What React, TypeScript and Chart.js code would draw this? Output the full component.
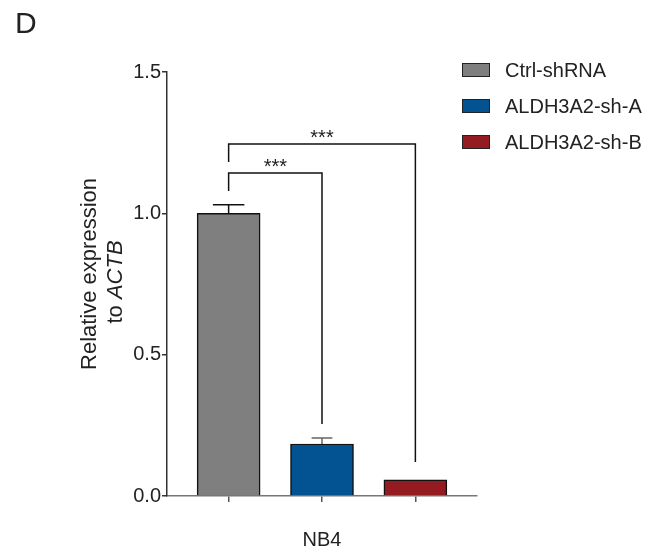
import React, { useEffect, useRef } from 'react';
import { Chart, registerables } from 'chart.js';

Chart.register(...registerables);

// ---------- data ----------
const groups = ['Ctrl-shRNA', 'ALDH3A2-sh-A', 'ALDH3A2-sh-B'];
const positions = [0, 1, 2];
const means = [1.0, 0.184, 0.057];
const errors = [0.03, 0.021, 0.0];
const yTicks = [0, 0.5, 1.0, 1.5];
const xCategory = 'NB4';
const panelLetter = 'D';
const yTitleLine1 = 'Relative expression';
const yTitleLine2Plain = 'to ';
const yTitleLine2Italic = 'ACTB';

// significance brackets (data units)
const bracketFrom = [0, 0];
const bracketTo = [1, 2];
const bracketLevel = [1.143, 1.245];
const bracketLeftEnd = [1.079, 1.182];
const bracketRightEnd = [0.255, 0.12];
const bracketLabel = ['***', '***'];

// ---------- styles ----------
const FONT = '"Liberation Sans", Arial, Helvetica, sans-serif';
const colors = ['#7f7f7f', '#035291', '#941b1f'];
const errorColors = ['#111111', '#666666', '#111111'];
const capFraction = [0.5, 0.33, 0.5];
const BAR_W = 63;

const annotate = {
  id: 'annotate',
  afterDatasetsDraw(chart: any) {
    const ctx = chart.ctx as CanvasRenderingContext2D;
    const xs = chart.scales.x;
    const ys = chart.scales.y;
    ctx.save();
    // error bars
    means.forEach((m, i) => {
      const e = errors[i];
      if (!e) return;
      const cx = xs.getPixelForValue(positions[i]);
      const y0 = ys.getPixelForValue(m);
      const y1 = ys.getPixelForValue(m + e);
      const half = (BAR_W * capFraction[i]) / 2;
      ctx.strokeStyle = errorColors[i];
      ctx.lineWidth = 1.5;
      ctx.beginPath();
      ctx.moveTo(cx, y0);
      ctx.lineTo(cx, y1);
      ctx.moveTo(cx - half, y1);
      ctx.lineTo(cx + half, y1);
      ctx.stroke();
    });
    // brackets
    bracketFrom.forEach((f, i) => {
      const x1 = xs.getPixelForValue(positions[f]);
      const x2 = xs.getPixelForValue(positions[bracketTo[i]]);
      const yl = ys.getPixelForValue(bracketLevel[i]);
      const ya = ys.getPixelForValue(bracketLeftEnd[i]);
      const yb = ys.getPixelForValue(bracketRightEnd[i]);
      ctx.strokeStyle = '#111';
      ctx.lineWidth = 1.5;
      ctx.beginPath();
      ctx.moveTo(x1, ya);
      ctx.lineTo(x1, yl);
      ctx.lineTo(x2, yl);
      ctx.lineTo(x2, yb);
      ctx.stroke();
      ctx.fillStyle = '#222';
      ctx.font = `20px ${FONT}`;
      ctx.textAlign = 'center';
      ctx.textBaseline = 'alphabetic';
      ctx.fillText(bracketLabel[i], (x1 + x2) / 2, yl);
    });
    ctx.restore();
  },
  afterDraw(chart: any) {
    const ctx = chart.ctx as CanvasRenderingContext2D;
    const xs = chart.scales.x;
    const area = chart.chartArea;
    ctx.save();
    ctx.fillStyle = '#222';
    // panel letter
    ctx.font = `30px ${FONT}`;
    ctx.textAlign = 'left';
    ctx.textBaseline = 'alphabetic';
    ctx.fillText(panelLetter, 15, 33);
    // x category label
    ctx.font = `20px ${FONT}`;
    ctx.textAlign = 'center';
    ctx.textBaseline = 'middle';
    ctx.fillText(xCategory, xs.getPixelForValue(positions[1]), area.bottom + 44);
    // y title
    ctx.save();
    ctx.translate(90, 274);
    ctx.rotate(-Math.PI / 2);
    ctx.font = `22px ${FONT}`;
    ctx.textAlign = 'center';
    ctx.textBaseline = 'middle';
    ctx.fillText(yTitleLine1, 0, 0);
    ctx.restore();
    ctx.save();
    ctx.translate(116, 282);
    ctx.rotate(-Math.PI / 2);
    ctx.font = `22px ${FONT}`;
    const w1 = ctx.measureText(yTitleLine2Plain).width;
    ctx.font = `italic 22px ${FONT}`;
    const w2 = ctx.measureText(yTitleLine2Italic).width;
    const start = -(w1 + w2) / 2;
    ctx.textAlign = 'left';
    ctx.textBaseline = 'middle';
    ctx.font = `22px ${FONT}`;
    ctx.fillText(yTitleLine2Plain, start, 0);
    ctx.font = `italic 22px ${FONT}`;
    ctx.fillText(yTitleLine2Italic, start + w1, 0);
    ctx.restore();
    // legend
    ctx.font = `20px ${FONT}`;
    ctx.textAlign = 'left';
    ctx.textBaseline = 'middle';
    groups.forEach((g, i) => {
      const yc = 70 + i * 36;
      ctx.fillStyle = colors[i];
      ctx.fillRect(462, yc - 7, 28, 14);
      ctx.strokeStyle = '#222';
      ctx.lineWidth = 1;
      ctx.strokeRect(462.5, yc - 6.5, 27, 13);
      ctx.fillStyle = '#222';
      ctx.fillText(g, 505, yc + 1);
    });
    ctx.restore();
  },
};

export default function App() {
  const ref = useRef<HTMLCanvasElement>(null);
  useEffect(() => {
    if (!ref.current) return;
    const chart = new Chart(ref.current, {
      type: 'bar',
      data: {
        datasets: [
          {
            label: 'Relative expression',
            data: positions.map((p, i) => ({ x: p, y: means[i] })) as any,
            backgroundColor: colors,
            borderColor: '#111',
            borderWidth: 1.5,
            barThickness: BAR_W,
            grouped: false,
          } as any,
        ],
      },
      options: {
        animation: false,
        responsive: false,
        maintainAspectRatio: false,
        layout: { padding: { top: 72, right: 182, bottom: 0, left: 0 } },
        plugins: { legend: { display: false }, tooltip: { enabled: false } },
        scales: {
          x: {
            type: 'linear',
            offset: false,
            min: -0.66,
            max: 2.66,
            afterBuildTicks: (s: any) => {
              s.ticks = positions.map((v) => ({ value: v }));
            },
            afterFit: (s: any) => {
              s.height = 61;
            },
            ticks: { callback: () => '', font: { size: 20, family: FONT } },
            grid: {
              display: true,
              offset: false,
              drawOnChartArea: false,
              drawTicks: true,
              tickLength: 6,
              color: '#555',
              lineWidth: 1.5,
            },
            border: { display: true, color: '#777', width: 1.5 },
          } as any,
          y: {
            type: 'linear',
            min: 0,
            max: 1.5,
            afterBuildTicks: (s: any) => {
              s.ticks = yTicks.map((v) => ({ value: v }));
            },
            afterFit: (s: any) => {
              s.width = 167;
            },
            ticks: {
              padding: 1,
              color: '#222',
              font: { size: 20, family: FONT },
              callback: (v: any) => Number(v).toFixed(1),
            },
            grid: {
              display: true,
              drawOnChartArea: false,
              drawTicks: true,
              tickLength: 5,
              color: '#333',
              lineWidth: 1.5,
            },
            border: { display: true, color: '#333', width: 1.5 },
          } as any,
        },
      },
      plugins: [annotate],
    });
    return () => chart.destroy();
  }, []);
  return (
    <div style={{ position: 'fixed', left: 0, top: 0, width: 659, height: 557, background: '#fff' }}>
      <canvas ref={ref} width={659} height={557} style={{ display: 'block' }} />
    </div>
  );
}
